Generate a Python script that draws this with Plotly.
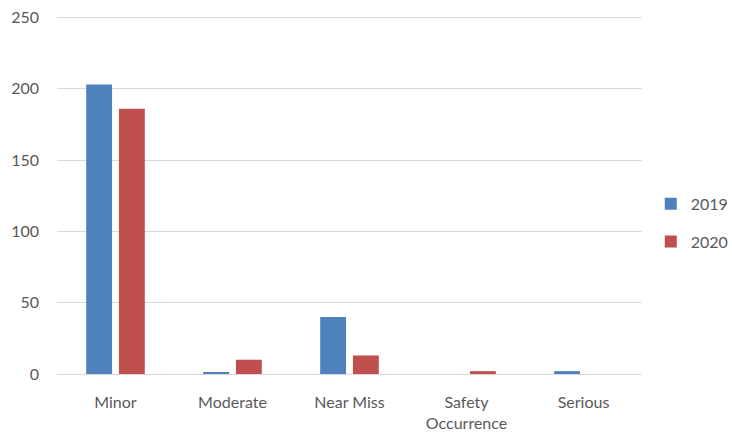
import plotly.graph_objects as go

# Incident counts by severity category
categories = ["Minor", "Moderate", "Near Miss", "Safety<br>Occurrence", "Serious"]
counts_2019 = [203, 1, 40, 0, 2]
counts_2020 = [186, 10, 13, 2, 0]
y_ticks = [0, 50, 100, 150, 200, 250]

text_color = "#595959"
grid_color = "#d9d9d9"

fig = go.Figure()
fig.add_trace(go.Bar(x=categories, y=counts_2019, name="2019",
                     marker=dict(color="#4f81bd", line=dict(width=0)),
                     legendgroup="a"))
fig.add_trace(go.Bar(x=categories, y=counts_2020, name="2020",
                     marker=dict(color="#c0504d", line=dict(width=0)),
                     legendgroup="b"))

fig.update_layout(
    width=732, height=432,
    margin=dict(l=57, r=90, t=16, b=58),
    paper_bgcolor="white", plot_bgcolor="white",
    font=dict(family="Lato", size=16, color=text_color),
    barmode="group", bargap=0.44, bargroupgap=0.21,
    legend=dict(xref="container", yref="container",
                x=0.889, y=0.484, xanchor="left", yanchor="middle",
                itemwidth=30, tracegroupgap=14,
                font=dict(size=16, color=text_color)),
    xaxis=dict(showgrid=False, showline=False, ticks="",
               ticklabelstandoff=17, automargin=False),
    yaxis=dict(range=[0, 251], tickvals=y_ticks, showgrid=True,
               gridcolor=grid_color, gridwidth=1, zeroline=True,
               zerolinecolor=grid_color, zerolinewidth=1, showline=False,
               ticks="", ticklabelstandoff=17, automargin=False),
)

fig.write_html("out.html")
